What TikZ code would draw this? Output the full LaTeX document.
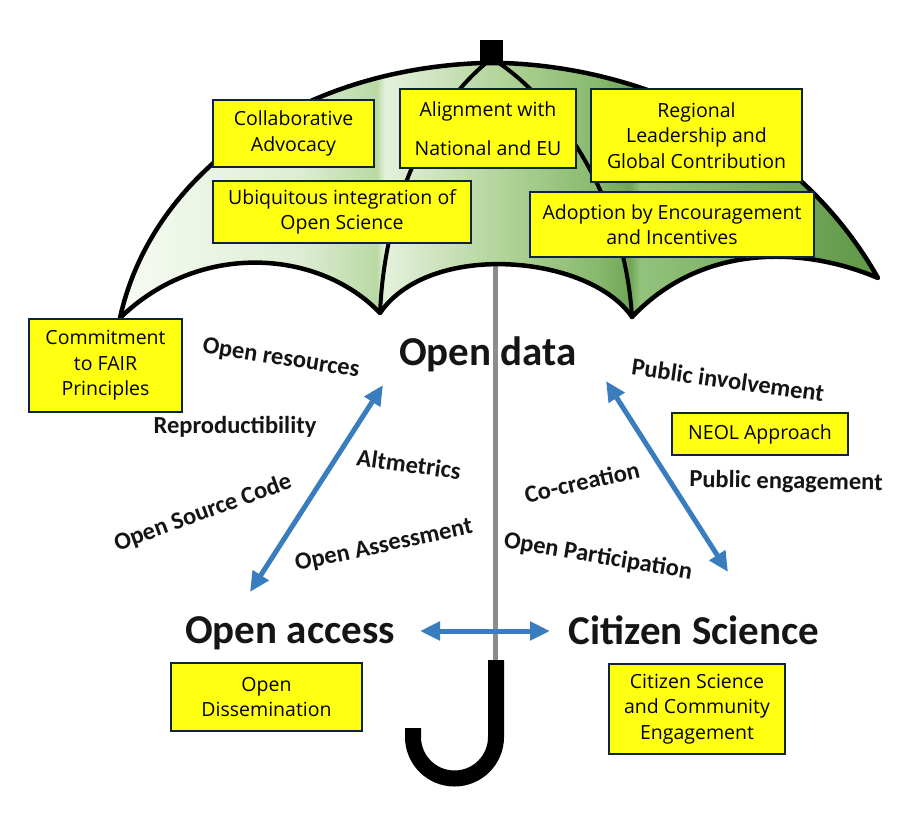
\documentclass[tikz,border=0pt]{standalone}
\usepackage{fontspec}
\setmainfont{Open Sans}
\newfontfamily\boxfont{Open Sans}
\newfontfamily\labfont{Carlito}
\usetikzlibrary{arrows.meta}
\definecolor{boxyellow}{HTML}{FFFF12}
\definecolor{boxline}{HTML}{0E2438}
\definecolor{arrowblue}{HTML}{3A7DBF}
\definecolor{shaftgray}{HTML}{8C8C8C}
\definecolor{labelblack}{HTML}{151515}
\definecolor{g0}{HTML}{F7FBF4}
\definecolor{g1}{HTML}{DDEDD3}
\definecolor{g2}{HTML}{B9D9A4}
\definecolor{g3}{HTML}{E4F1DC}
\definecolor{g4}{HTML}{B2D49A}
\definecolor{g5}{HTML}{86B86C}
\definecolor{g6}{HTML}{6FA455}
\definecolor{g7}{HTML}{93C27C}
\definecolor{g8}{HTML}{5E9746}
\pgfdeclarehorizontalshading{canopy}{100bp}{color(0bp)=(g0); color(25bp)=(g0); color(36.9bp)=(g1); color(41.9bp)=(g2); color(42.5bp)=(g3); color(50.1bp)=(g4); color(56.7bp)=(g5); color(58.6bp)=(g6); color(59.3bp)=(g7); color(75bp)=(g8); color(100bp)=(g8)}
\tikzset{
  canopyline/.style={draw=black, line width=4.5pt, line join=round, line cap=round},
  ribline/.style={draw=black, line width=4pt, line cap=round},
  ybox/.style={draw=boxline, line width=2.5pt, fill=boxyellow, align=center, inner sep=0pt,
    font=\boxfont\fontsize{19.5}{25.5}\selectfont, text=black},
  lab/.style={font=\labfont\bfseries\fontsize{24.5}{28}\selectfont, text=labelblack, inner sep=0pt},
  biglab/.style={font=\labfont\bfseries\fontsize{41}{48}\selectfont, text=labelblack, inner sep=0pt},
  biarrow/.style={draw=arrowblue, line width=5pt,
    {Triangle[length=20pt,width=18pt]}-{Triangle[length=20pt,width=18pt]}}
}
\begin{document}
\begin{tikzpicture}[x=1pt,y=-1pt]
\useasboundingbox (0,0) rectangle (924,814);
\fill[white] (0,0) rectangle (924,814);

% shaft
\draw[shaftgray, line width=5pt] (495,150) -- (495,664);

% canopy
\shade[shading=canopy] (120,318) .. controls (150,180) and (290,70) .. (482,63) -- (503,63)
  .. controls (650,68) and (800,140) .. (878,278)
  .. controls (800,245) and (700,245) .. (632,317)
  .. controls (590,255) and (430,240) .. (380,313)
  .. controls (320,250) and (200,240) .. cycle;
\draw[canopyline] (120,318) .. controls (150,180) and (290,70) .. (482,63) -- (503,63)
  .. controls (650,68) and (800,140) .. (878,278)
  .. controls (800,245) and (700,245) .. (632,317)
  .. controls (590,255) and (430,240) .. (380,313)
  .. controls (320,250) and (200,240) .. cycle;
\draw[ribline] (486,63) .. controls (430,110) and (385,200) .. (380,313);
\draw[ribline] (499,63) .. controls (560,105) and (625,200) .. (632,317);
\fill[black] (480,40) rectangle (503,65);

% handle
\draw[black, line width=16pt] (496,660) -- (496,737) arc[start angle=0, end angle=180, radius=41.5] -- (413,728);

% boxes
\node[ybox, minimum width=161pt, minimum height=67pt] (collab) at (293.5,133.5) {Collaborative\\Advocacy};
\node[ybox, minimum width=176pt, minimum height=79pt] (align) at (488,128.5) {Alignment with\\[13pt]National and EU};
\node[ybox, minimum width=211pt, minimum height=93pt] (region) at (696.5,135.5) {Regional\\Leadership and\\Global Contribution};
\node[ybox, minimum width=258pt, minimum height=62pt] (ubiq) at (342,212) {Ubiquitous integration of\\Open Science};
\node[ybox, minimum width=284pt, minimum height=65pt] (adopt) at (672,224.5) {Adoption by Encouragement\\and Incentives};
\node[ybox, minimum width=153pt, minimum height=93pt] (fair) at (105.5,365.5) {Commitment\\to FAIR\\Principles};
\node[ybox, minimum width=176pt, minimum height=42pt] (neol) at (760,434) {NEOL Approach};
\node[ybox, minimum width=191pt, minimum height=68pt] (dissem) at (266.5,697) {Open\\Dissemination};
\node[ybox, minimum width=176pt, minimum height=90pt] (csce) at (697,709) {Citizen Science\\and Community\\Engagement};

% main labels
\node[biglab, anchor=base] (opendata) at (488,365) {Open data};
\node[biglab, anchor=base] (openaccess) at (290,643) {Open access};
\node[biglab, anchor=base] (citsci) at (694,644) {Citizen Science};

% small labels
\node[lab, rotate=-9] (res) at (281,359) {Open resources};
\node[lab] (repro) at (235,427) {Reproductibility};
\node[lab, rotate=-8] (alt) at (409,464) {Altmetrics};
\node[lab, rotate=20] (osc) at (203,513) {Open Source Code};
\node[lab, rotate=12] (oas) at (384,546) {Open Assessment};
\node[lab, rotate=-8] (pinv) at (728,380) {Public involvement};
\node[lab, rotate=-1] (peng) at (786,482) {Public engagement};
\node[lab, rotate=13] (cocr) at (582,482) {Co-creation};
\node[lab, rotate=-9.5] (opart) at (598,557) {Open Participation};

% arrows
\coordinate (odL) at (383,385);
\coordinate (oaT) at (250,592);
\coordinate (odR) at (606,381);
\coordinate (csT) at (728,572);
\coordinate (oaR) at (420,631);
\coordinate (csL) at (550,631);
\draw[biarrow] (oaT) -- (odL);
\draw[biarrow] (csT) -- (odR);
\draw[biarrow] (oaR) -- (csL);
\end{tikzpicture}
\end{document}
